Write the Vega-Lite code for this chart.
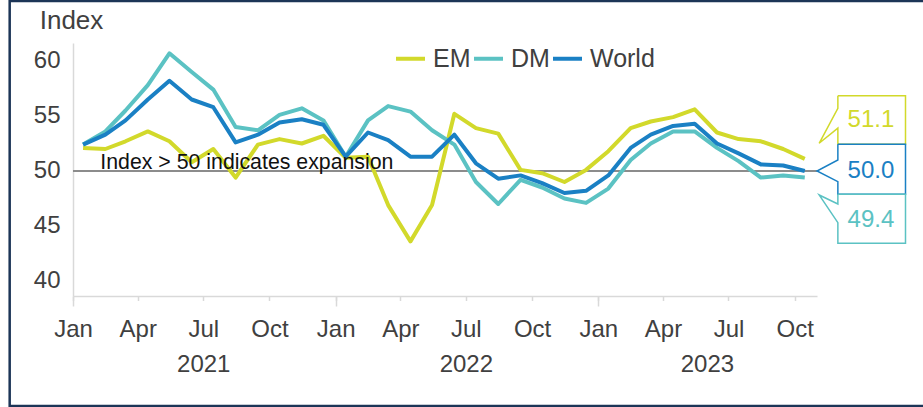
{
  "$schema": "https://vega.github.io/schema/vega-lite/v6.json",
  "width": 744,
  "height": 253,
  "autosize": {"type": "none"},
  "padding": {"left": 73, "top": 43, "right": 106, "bottom": 111},
  "background": "white",
  "config": {
    "view": {"stroke": null},
    "font": "Liberation Sans",
    "axis": {"labelFont": "Liberation Sans", "titleFont": "Liberation Sans", "labelColor": "#404040", "labelFontSize": 24, "grid": false, "domainColor": "#d9d9d9", "tickColor": "#d9d9d9", "domainWidth": 1.5, "tickWidth": 1.5},
    "legend": {"orient": "none", "legendX": 321, "legendY": -1, "direction": "horizontal", "symbolType": "stroke", "symbolSize": 841, "symbolStrokeWidth": 4, "labelFontSize": 25, "labelColor": "#404040", "labelFont": "Liberation Sans", "labelOffset": 6, "columnPadding": -5, "padding": 0}
  },
  "datasets": {
    "pmi": [
      {"date": "2021-01-15", "EM": 52.1, "DM": 52.4, "World": 52.4},
      {"date": "2021-02-15", "EM": 52.0, "DM": 53.6, "World": 53.3},
      {"date": "2021-03-15", "EM": 52.7, "DM": 55.5, "World": 54.6},
      {"date": "2021-04-15", "EM": 53.6, "DM": 57.8, "World": 56.5},
      {"date": "2021-05-15", "EM": 52.7, "DM": 60.7, "World": 58.2},
      {"date": "2021-06-15", "EM": 50.8, "DM": 59.0, "World": 56.5},
      {"date": "2021-07-15", "EM": 52.0, "DM": 57.4, "World": 55.8},
      {"date": "2021-08-15", "EM": 49.4, "DM": 54.0, "World": 52.6},
      {"date": "2021-09-15", "EM": 52.4, "DM": 53.7, "World": 53.3},
      {"date": "2021-10-15", "EM": 52.9, "DM": 55.1, "World": 54.4},
      {"date": "2021-11-15", "EM": 52.5, "DM": 55.7, "World": 54.7},
      {"date": "2021-12-15", "EM": 53.2, "DM": 54.6, "World": 54.2},
      {"date": "2022-01-15", "EM": 51.2, "DM": 51.3, "World": 51.3},
      {"date": "2022-02-15", "EM": 51.3, "DM": 54.6, "World": 53.5},
      {"date": "2022-03-15", "EM": 46.9, "DM": 55.9, "World": 52.8},
      {"date": "2022-04-15", "EM": 43.6, "DM": 55.4, "World": 51.3},
      {"date": "2022-05-15", "EM": 46.9, "DM": 53.7, "World": 51.3},
      {"date": "2022-06-15", "EM": 55.2, "DM": 52.4, "World": 53.3},
      {"date": "2022-07-15", "EM": 53.9, "DM": 49.0, "World": 50.7},
      {"date": "2022-08-15", "EM": 53.4, "DM": 47.0, "World": 49.3},
      {"date": "2022-09-15", "EM": 50.1, "DM": 49.2, "World": 49.6},
      {"date": "2022-10-15", "EM": 49.8, "DM": 48.5, "World": 48.9},
      {"date": "2022-11-15", "EM": 49.0, "DM": 47.5, "World": 48.0},
      {"date": "2022-12-15", "EM": 50.1, "DM": 47.1, "World": 48.2},
      {"date": "2023-01-15", "EM": 51.8, "DM": 48.4, "World": 49.6},
      {"date": "2023-02-15", "EM": 53.9, "DM": 51.0, "World": 52.1},
      {"date": "2023-03-15", "EM": 54.5, "DM": 52.5, "World": 53.3},
      {"date": "2023-04-15", "EM": 54.9, "DM": 53.6, "World": 54.1},
      {"date": "2023-05-15", "EM": 55.6, "DM": 53.6, "World": 54.3},
      {"date": "2023-06-15", "EM": 53.5, "DM": 52.1, "World": 52.5},
      {"date": "2023-07-15", "EM": 52.9, "DM": 50.9, "World": 51.6},
      {"date": "2023-08-15", "EM": 52.7, "DM": 49.4, "World": 50.6},
      {"date": "2023-09-15", "EM": 52.0, "DM": 49.6, "World": 50.5},
      {"date": "2023-10-15", "EM": 51.1, "DM": 49.4, "World": 50.0}
    ],
    "callouts": [
      {"series": "EM", "ord": 1, "date": "2023-11-30", "value": 56.85},
      {"series": "EM", "ord": 2, "date": "2024-03-03", "value": 56.85},
      {"series": "EM", "ord": 3, "date": "2024-03-03", "value": 52.43},
      {"series": "EM", "ord": 4, "date": "2023-11-30", "value": 52.43},
      {"series": "EM", "ord": 5, "date": "2023-11-30", "value": 53.9},
      {"series": "EM", "ord": 6, "date": "2023-11-04", "value": 52.52},
      {"series": "EM", "ord": 7, "date": "2023-11-30", "value": 55.7},
      {"series": "EM", "ord": 8, "date": "2023-11-30", "value": 56.85},
      {"series": "World", "ord": 1, "date": "2023-11-30", "value": 52.43},
      {"series": "World", "ord": 2, "date": "2024-03-03", "value": 52.43},
      {"series": "World", "ord": 3, "date": "2024-03-03", "value": 47.88},
      {"series": "World", "ord": 4, "date": "2023-11-30", "value": 47.88},
      {"series": "World", "ord": 5, "date": "2023-11-30", "value": 49.03},
      {"series": "World", "ord": 6, "date": "2023-11-01", "value": 50.0},
      {"series": "World", "ord": 7, "date": "2023-11-30", "value": 51.0},
      {"series": "World", "ord": 8, "date": "2023-11-30", "value": 52.43},
      {"series": "DM", "ord": 1, "date": "2023-11-30", "value": 47.88},
      {"series": "DM", "ord": 2, "date": "2024-03-03", "value": 47.88},
      {"series": "DM", "ord": 3, "date": "2024-03-03", "value": 43.43},
      {"series": "DM", "ord": 4, "date": "2023-11-30", "value": 43.43},
      {"series": "DM", "ord": 5, "date": "2023-11-30", "value": 45.3},
      {"series": "DM", "ord": 6, "date": "2023-11-04", "value": 47.82},
      {"series": "DM", "ord": 7, "date": "2023-11-30", "value": 47.0},
      {"series": "DM", "ord": 8, "date": "2023-11-30", "value": 47.88}
    ],
    "calloutText": [
      {"series": "EM", "date": "2024-01-15", "value": 54.6, "label": "51.1"},
      {"series": "World", "date": "2024-01-15", "value": 50.0, "label": "50.0"},
      {"series": "DM", "date": "2024-01-15", "value": 45.55, "label": "49.4"}
    ],
    "frame": [
      {"ord": 1, "date": "2024-04-15", "value": 65.45},
      {"ord": 2, "date": "2020-10-05", "value": 65.45},
      {"ord": 3, "date": "2020-10-05", "value": 28.64},
      {"ord": 4, "date": "2024-04-15", "value": 28.64}
    ],
    "note": [
      {"date": "2021-02-08", "value": 50, "label": "Index > 50 indicates expansion"}
    ]
  },
  "layer": [
    {
      "data": {"values": [{"value": 50}]},
      "mark": {"type": "rule", "color": "#8c8c8c", "strokeWidth": 2},
      "encoding": {
        "y": {"field": "value", "type": "quantitative", "scale": {"domain": [38.636, 61.636], "nice": false, "zero": false},
          "axis": {"title": "Index", "titleAngle": 0, "titleAlign": "center", "titleBaseline": "alphabetic", "titleX": -2, "titleY": -15, "titleFontSize": 26, "titleFontWeight": "normal", "titleColor": "#404040",
            "values": [40, 45, 50, 55, 60], "ticks": false, "labelPadding": 13, "labelFontSize": 24}}
      }
    },
    {
      "data": {"name": "pmi"},
      "transform": [{"fold": ["EM", "DM", "World"], "as": ["series", "value"]}],
      "mark": {"type": "line", "strokeWidth": 4, "strokeJoin": "round"},
      "encoding": {
        "x": {"field": "date", "type": "temporal",
          "scale": {"type": "utc", "domain": [{"year": 2021, "month": 1, "date": 1, "utc": true}, {"year": 2023, "month": 11, "date": 1, "utc": true}], "nice": false},
          "axis": {"orient": "bottom", "title": null, "format": "%b", "labelFlush": false, "labelOverlap": false, "labelBound": false, "tickSize": 4.5, "labelPadding": 16.5, "labelFontSize": 24,
            "values": [
              {"year": 2021, "month": 1, "date": 1, "utc": true}, {"year": 2021, "month": 4, "date": 1, "utc": true}, {"year": 2021, "month": 7, "date": 1, "utc": true}, {"year": 2021, "month": 10, "date": 1, "utc": true},
              {"year": 2022, "month": 1, "date": 1, "utc": true}, {"year": 2022, "month": 4, "date": 1, "utc": true}, {"year": 2022, "month": 7, "date": 1, "utc": true}, {"year": 2022, "month": 10, "date": 1, "utc": true},
              {"year": 2023, "month": 1, "date": 1, "utc": true}, {"year": 2023, "month": 4, "date": 1, "utc": true}, {"year": 2023, "month": 7, "date": 1, "utc": true}, {"year": 2023, "month": 10, "date": 1, "utc": true}
            ]}},
        "y": {"field": "value", "type": "quantitative", "scale": {"domain": [38.636, 61.636], "nice": false, "zero": false},
          "axis": {"title": "Index", "titleAngle": 0, "titleAlign": "center", "titleBaseline": "alphabetic", "titleX": -2, "titleY": -15, "titleFontSize": 26, "titleFontWeight": "normal", "titleColor": "#404040",
            "values": [40, 45, 50, 55, 60], "ticks": false, "labelPadding": 13, "labelFontSize": 24}},
        "color": {"field": "series", "type": "nominal",
          "scale": {"domain": ["EM", "DM", "World"], "range": ["#d2d92b", "#5bc2c3", "#1a80c4"]},
          "legend": {"title": null}}
      }
    },
    {
      "data": {"name": "note"},
      "mark": {"type": "text", "align": "left", "baseline": "alphabetic", "dy": -2, "fontSize": 21.3, "color": "#111111", "font": "Liberation Sans"},
      "encoding": {
        "x": {"field": "date", "type": "temporal",
          "scale": {"type": "utc", "domain": [{"year": 2021, "month": 1, "date": 1, "utc": true}, {"year": 2023, "month": 11, "date": 1, "utc": true}], "nice": false},
          "axis": {"orient": "bottom", "title": null, "format": "%Y", "ticks": false, "domain": false, "labelPadding": 56, "labelFontSize": 24, "labelFlush": false, "labelOverlap": false, "labelBound": false,
            "values": [{"year": 2021, "month": 7, "date": 1, "utc": true}, {"year": 2022, "month": 7, "date": 1, "utc": true}, {"year": 2023, "month": 6, "date": 1, "utc": true}]}},
        "y": {"field": "value", "type": "quantitative", "scale": {"domain": [38.636, 61.636], "nice": false, "zero": false}},
        "text": {"field": "label"}
      }
    },
    {
      "data": {"name": "callouts"},
      "mark": {"type": "line", "strokeWidth": 1.5},
      "encoding": {
        "x": {"field": "date", "type": "temporal",
          "scale": {"type": "utc", "domain": [{"year": 2021, "month": 1, "date": 1, "utc": true}, {"year": 2023, "month": 11, "date": 1, "utc": true}], "nice": false},
          "axis": {"orient": "bottom", "title": null, "labels": false, "domain": false, "ticks": true, "tickSize": 10,
            "values": [{"year": 2021, "month": 1, "date": 1, "utc": true}, {"year": 2022, "month": 1, "date": 1, "utc": true}, {"year": 2023, "month": 1, "date": 1, "utc": true}]}},
        "y": {"field": "value", "type": "quantitative", "scale": {"domain": [38.636, 61.636], "nice": false, "zero": false}},
        "color": {"field": "series", "type": "nominal", "legend": null},
        "order": {"field": "ord", "type": "quantitative"}
      }
    },
    {
      "data": {"name": "calloutText"},
      "mark": {"type": "text", "align": "center", "baseline": "middle", "fontSize": 24, "font": "Liberation Sans"},
      "encoding": {
        "x": {"field": "date", "type": "temporal",
          "scale": {"type": "utc", "domain": [{"year": 2021, "month": 1, "date": 1, "utc": true}, {"year": 2023, "month": 11, "date": 1, "utc": true}], "nice": false}, "axis": null},
        "y": {"field": "value", "type": "quantitative", "scale": {"domain": [38.636, 61.636], "nice": false, "zero": false}},
        "color": {"field": "series", "type": "nominal", "legend": null},
        "text": {"field": "label"}
      }
    },
    {
      "data": {"name": "frame"},
      "mark": {"type": "line", "strokeWidth": 2.5, "color": "#1c3557"},
      "encoding": {
        "x": {"field": "date", "type": "temporal",
          "scale": {"type": "utc", "domain": [{"year": 2021, "month": 1, "date": 1, "utc": true}, {"year": 2023, "month": 11, "date": 1, "utc": true}], "nice": false}, "axis": null},
        "y": {"field": "value", "type": "quantitative", "scale": {"domain": [38.636, 61.636], "nice": false, "zero": false}},
        "order": {"field": "ord", "type": "quantitative"}
      }
    }
  ],
  "resolve": {"axis": {"x": "independent"}}
}
